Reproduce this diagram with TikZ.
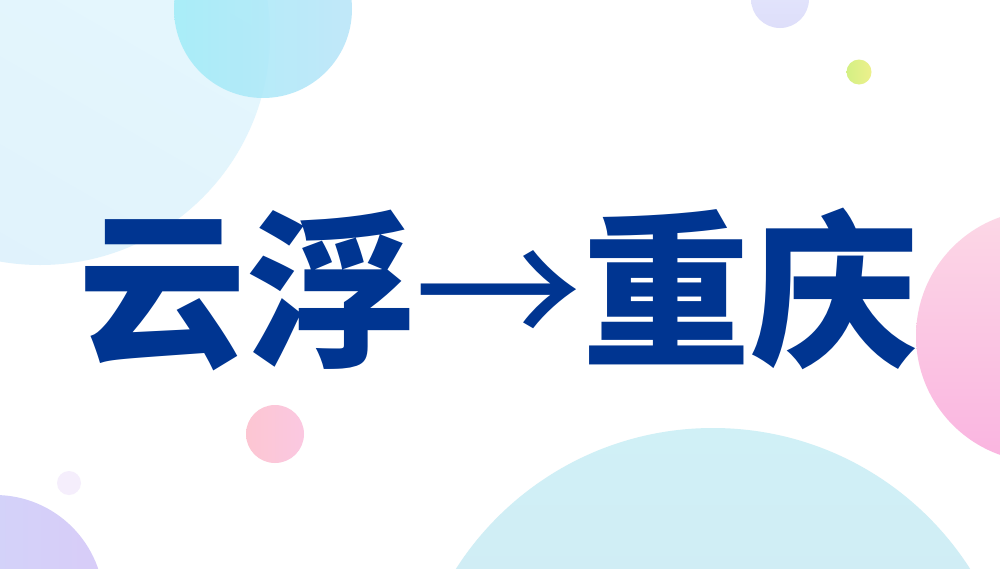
\documentclass[tikz,border=0pt]{standalone}
\usepackage{fontspec}
\newfontfamily\cjk{Noto Sans CJK SC}
\definecolor{title}{RGB}{0,53,145}
\definecolor{faintlav}{RGB}{245,238,252}
\begin{document}
\begin{tikzpicture}[x=1pt,y=-1pt,
  bubble/.style={draw=none}]
\useasboundingbox (0,0) rectangle (1000,568);
\fill[white] (0,0) rectangle (1000,568);
\begin{scope}
\clip (0,0) rectangle (1000,568);
% large light blue top-left
\shade[bubble, top color={rgb,255:red,230;green,248;blue,253}, bottom color={rgb,255:red,224;green,242;blue,252}, shading angle=-30] (40,35) circle[radius=230];
% cyan top
\shade[bubble, left color={rgb,255:red,160;green,236;blue,248}, right color={rgb,255:red,182;green,228;blue,249}, fill opacity=0.85] (263,9) circle[radius=89];
% lavender top right
\shade[bubble, top color={rgb,255:red,228;green,232;blue,252}, bottom color={rgb,255:red,222;green,222;blue,250}] (780,-1) circle[radius=29];
% green-yellow dot
\shade[bubble, left color={rgb,255:red,212;green,240;blue,132}, right color={rgb,255:red,236;green,240;blue,140}] (859,72) circle[radius=12.5];
% pink right
\shade[bubble, top color={rgb,255:red,252;green,216;blue,230}, bottom color={rgb,255:red,250;green,180;blue,224}] (1042,336) circle[radius=126];
% small pink
\shade[bubble, left color={rgb,255:red,252;green,198;blue,210}, right color={rgb,255:red,251;green,200;blue,225}] (275,434) circle[radius=29];
% faint lavender
\fill[bubble, faintlav] (69,483) circle[radius=12];
% bottom-left purple
\shade[bubble, left color={rgb,255:red,206;green,216;blue,250}, right color={rgb,255:red,216;green,204;blue,248}] (-5,604) circle[radius=109];
% bottom big light blue
\shade[bubble, top color={rgb,255:red,208;green,240;blue,246}, bottom color={rgb,255:red,210;green,228;blue,242}] (713,733) circle[radius=305];
\end{scope}
\node[text=title, font=\cjk\bfseries\fontsize{168}{168}\selectfont, inner sep=0pt] (t) at (498,289) {云浮{\mdseries →}重庆};
\end{tikzpicture}
\end{document}
